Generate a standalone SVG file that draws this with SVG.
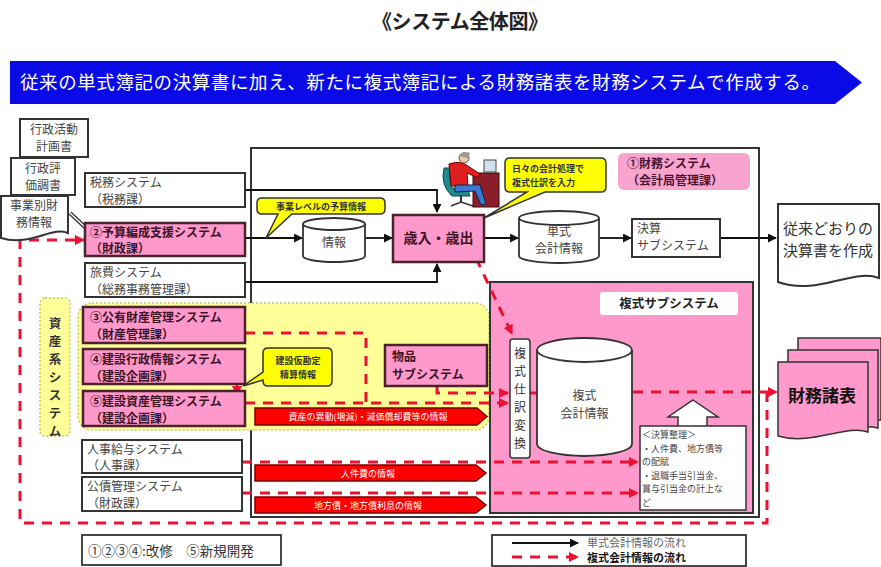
<svg xmlns="http://www.w3.org/2000/svg" width="881" height="567" viewBox="0 0 881 567">
  <defs>
    <marker id="arrBlack" viewBox="0 0 10 10" refX="9" refY="5" markerWidth="9" markerHeight="9" markerUnits="userSpaceOnUse" orient="auto">
      <path d="M0,0 L10,5 L0,10 Z" fill="#111"/>
    </marker>
    <marker id="arrRed" viewBox="0 0 10 10" refX="9" refY="5" markerWidth="10" markerHeight="10" markerUnits="userSpaceOnUse" orient="auto">
      <path d="M0,0 L10,5 L0,10 Z" fill="#ee1030"/>
    </marker>
  </defs>
  <style>
    text { font-family: "Noto Sans CJK JP", "Noto Sans", sans-serif; }
    .box { fill: #ffffff; stroke: #333; stroke-width: 2; }
    .pbox { fill: #ff99cc; stroke: #4a2328; stroke-width: 2.5; }
    .t { font-size: 12px; fill: #444; }
    .tp { font-size: 12px; fill: #3a1426; font-weight: bold; }
    .flow { fill: none; stroke: #111; stroke-width: 1.8; }
    .dash { fill: none; stroke: #ee1030; stroke-width: 3; stroke-dasharray: 10 8; }
    .callout { fill: #ffff00; stroke: #333; stroke-width: 1.5; }
    .ct { font-size: 9px; fill: #333; font-weight: bold; }
    .cyl { fill: #fff; stroke: #333; stroke-width: 1.8; }
    .redarrow { fill: #ff0000; stroke: #7a0000; stroke-width: 1.5; }
    .rt { font-size: 9px; fill: #fff; text-anchor: middle; }
  </style>

  <rect width="881" height="567" fill="#fff"/>

  <!-- heading -->
  <g id="title">
    <text x="460" y="29" font-size="20" font-weight="bold" text-anchor="middle" fill="#222" textLength="176">《システム全体図》</text>
  </g>

  <!-- banner -->
  <g id="banner">
    <path d="M10,61 H835 L862,82.5 L835,104 H10 Z" fill="#0a0ae6"/>
    <text x="20" y="89" font-size="18.5" fill="#fff" textLength="800">従来の単式簿記の決算書に加え、新たに複式簿記による財務諸表を財務システムで作成する。</text>
  </g>

  <!-- finance system frame -->
  <g id="financeFrame">
    <rect x="251" y="148" width="508" height="369" fill="none" stroke="#333" stroke-width="2"/>
  </g>

  <!-- asset systems area -->
  <g id="assetArea">
    <rect x="78" y="303" width="411" height="127" rx="14" fill="#ffff99" stroke="#c8c864" stroke-width="1.5" stroke-dasharray="2 2"/>
  </g>

  <!-- double-entry subsystem area -->
  <g id="doubleSubArea">
    <rect x="490" y="282" width="263" height="231" fill="#ff99cc" stroke="#333" stroke-width="2"/>
    <rect x="600" y="292" width="138" height="23" rx="3" fill="#fff"/>
    <text x="669" y="308" font-size="12.5" font-weight="bold" text-anchor="middle" fill="#222">複式サブシステム</text>
  </g>

  <!-- connectors -->
  <g id="connectors">
    <!-- single-entry flows -->
    <polyline class="flow" points="245,190 437,190 437,212" marker-end="url(#arrBlack)"/>
    <polyline class="flow" points="245,282 437,282 437,264" marker-end="url(#arrBlack)"/>
    <line class="flow" x1="245" y1="238" x2="302" y2="238" marker-end="url(#arrBlack)"/>
    <line class="flow" x1="365" y1="238" x2="392" y2="238" marker-end="url(#arrBlack)"/>
    <line class="flow" x1="485" y1="238" x2="518" y2="238" marker-end="url(#arrBlack)"/>
    <line class="flow" x1="600" y1="238" x2="631" y2="238" marker-end="url(#arrBlack)"/>
    <line class="flow" x1="720" y1="238" x2="776" y2="238" marker-end="url(#arrBlack)"/>
    <!-- project financial info into budget system -->
    <line x1="70" y1="213" x2="86" y2="228" stroke="#333" stroke-width="4"/>
    <line x1="70" y1="213" x2="86" y2="228" stroke="#fff" stroke-width="1.5"/>

    <!-- double-entry flows -->
    <polyline class="dash" points="767,392 767,523 20,523 20,240 84,240" marker-end="url(#arrRed)"/>
    <line class="dash" x1="476" y1="258" x2="512" y2="334" marker-end="url(#arrRed)"/>
    <polyline class="dash" points="245,333 366,333 366,403"/>
    <line class="dash" x1="245" y1="403" x2="508" y2="403" marker-end="url(#arrRed)"/>
    <polyline class="dash" points="437,386 437,393 508,393" marker-end="url(#arrRed)"/>
    <line class="dash" x1="530" y1="393" x2="552" y2="393" marker-end="url(#arrRed)"/>
    <line class="dash" x1="633" y1="392" x2="777" y2="392" marker-end="url(#arrRed)"/>
    <line class="dash" x1="242" y1="462" x2="638" y2="462" marker-end="url(#arrRed)"/>
    <line class="dash" x1="242" y1="493" x2="638" y2="493" marker-end="url(#arrRed)"/>
    <line x1="237" y1="385" x2="237" y2="395" stroke="#ee1030" stroke-width="2" marker-end="url(#arrRed)"/>
  </g>

  <!-- source documents -->
  <g id="docPlan">
    <rect class="box" x="20" y="119" width="68" height="38"/>
    <text class="t" x="54" y="134" text-anchor="middle"><tspan x="54">行政活動</tspan><tspan x="54" dy="17">計画書</tspan></text>
  </g>
  <g id="docEval">
    <rect class="box" x="11" y="158" width="64" height="37"/>
    <text class="t" x="43" y="173" text-anchor="middle"><tspan x="43">行政評</tspan><tspan x="43" dy="17">価調書</tspan></text>
  </g>
  <g id="docProject">
    <path class="box" d="M1,196 H68 V233 C52,226 30,247 1,238 Z"/>
    <text class="t" x="34" y="210" text-anchor="middle"><tspan x="34">事業別財</tspan><tspan x="34" dy="17">務情報</tspan></text>
  </g>

  <!-- feeder systems -->
  <g id="taxSystem">
    <rect class="box" x="85" y="173" width="160" height="34"/>
    <text class="t" x="90" y="187"><tspan x="90">税務システム</tspan><tspan x="90" dy="16.5">（税務課）</tspan></text>
  </g>
  <g id="budgetSystem">
    <rect class="pbox" x="85" y="223" width="160" height="33"/>
    <text class="tp" x="90" y="236.5"><tspan x="90">②予算編成支援システム</tspan><tspan x="90" dy="16.5">（財政課）</tspan></text>
  </g>
  <g id="travelSystem">
    <rect class="box" x="85" y="263" width="160" height="34"/>
    <text class="t" x="90" y="277"><tspan x="90">旅費システム</tspan><tspan x="90" dy="16.5">（総務事務管理課）</tspan></text>
  </g>
  <g id="assetLabel">
    <rect x="40" y="298" width="30" height="138" rx="5" fill="#ffff99" stroke="#c8c864" stroke-width="1.5" stroke-dasharray="2 2"/>
    <text font-size="12.5" font-weight="bold" fill="#333" text-anchor="middle" x="55" y="328"><tspan x="55">資</tspan><tspan x="55" dy="18">産</tspan><tspan x="55" dy="18">系</tspan><tspan x="55" dy="18">シ</tspan><tspan x="55" dy="18">ス</tspan><tspan x="55" dy="18">テ</tspan><tspan x="55" dy="18">ム</tspan></text>
  </g>
  <g id="publicPropertySystem">
    <rect class="pbox" x="83" y="307" width="162" height="36"/>
    <text class="tp" x="90" y="321.5"><tspan x="90">③公有財産管理システム</tspan><tspan x="90" dy="17">（財産管理課）</tspan></text>
  </g>
  <g id="constructionAdminSystem">
    <rect class="pbox" x="83" y="349" width="162" height="35"/>
    <text class="tp" x="90" y="363.5"><tspan x="90">④建設行政情報システム</tspan><tspan x="90" dy="17">（建設企画課）</tspan></text>
  </g>
  <g id="constructionAssetSystem">
    <rect class="pbox" x="83" y="391" width="162" height="35"/>
    <text class="tp" x="90" y="405.5"><tspan x="90">⑤建設資産管理システム</tspan><tspan x="90" dy="17">（建設企画課）</tspan></text>
  </g>
  <g id="payrollSystem">
    <rect class="box" x="82" y="440" width="160" height="33"/>
    <text class="t" x="87" y="453.5"><tspan x="87">人事給与システム</tspan><tspan x="87" dy="16.5">（人事課）</tspan></text>
  </g>
  <g id="bondSystem">
    <rect class="box" x="82" y="477" width="160" height="34"/>
    <text class="t" x="87" y="491"><tspan x="87">公債管理システム</tspan><tspan x="87" dy="16.5">（財政課）</tspan></text>
  </g>

  <!-- callouts -->
  <g id="calloutBudget">
    <path class="callout" d="M262,198 H380 Q385,198 385,203 V209 Q385,214 380,214 H292 L266,238 L278,214 H262 Q257,214 257,209 V203 Q257,198 262,198 Z"/>
    <text class="ct" x="321" y="210" text-anchor="middle">事業レベルの予算情報</text>
  </g>
  <g id="calloutDaily">
    <path class="callout" d="M510,158 H601 Q606,158 606,163 V187 Q606,192 601,192 H545 L484,218 L527,192 H510 Q505,192 505,187 V163 Q505,158 510,158 Z"/>
    <text class="ct" x="512" y="172"><tspan x="512">日々の会計処理で</tspan><tspan x="512" dy="14">複式仕訳を入力</tspan></text>
  </g>
  <g id="calloutConstruction">
    <path class="callout" d="M268,348 H327 Q332,348 332,353 V381 Q332,386 327,386 H268 Q263,386 263,381 V380 L243,386 L263,372 V353 Q263,348 268,348 Z"/>
    <text class="ct" x="298" y="364" text-anchor="middle"><tspan x="298">建設仮勘定</tspan><tspan x="298" dy="14">精算情報</tspan></text>
  </g>

  <!-- finance system contents -->
  <g id="financeSystemLabel">
    <rect x="618" y="153" width="132" height="37" rx="6" fill="#f9a3cf"/>
    <text x="627" y="167.5" font-size="12" font-weight="bold" fill="#4a1430"><tspan x="627">①財務システム</tspan><tspan x="627" dy="17.5">（会計局管理課）</tspan></text>
  </g>
  <g id="budgetInfo">
    <path class="cyl" d="M303,224 A31,6 0 0 1 365,224 V256 A31,6 0 0 1 303,256 Z"/>
    <path class="cyl" d="M303,224 A31,6 0 0 0 365,224" fill="none"/>
    <text class="t" x="334" y="247" text-anchor="middle">情報</text>
  </g>
  <g id="revenueExpense">
    <rect class="pbox" x="393" y="215" width="91" height="47" stroke="#333" stroke-width="1.8"/>
    <text x="438.5" y="243" font-size="14" font-weight="bold" fill="#3a1426" text-anchor="middle">歳入・歳出</text>
  </g>
  <g id="operator">
    <!-- chair -->
    <path d="M444,168 Q440,185 452,196 L470,196 L468,190 L452,188 Q448,178 450,168 Z" fill="#1f8c8c" stroke="#145"/>
    <line x1="461" y1="196" x2="461" y2="203" stroke="#333" stroke-width="2"/>
    <path d="M451,206 L461,202 L473,206" fill="none" stroke="#333" stroke-width="1.5"/>
    <!-- desk and monitor -->
    <rect x="473" y="173" width="26" height="34" fill="#8a1f2a" stroke="#3a0a10"/>
    <rect x="484" y="160" width="12" height="12" fill="#cfe3ee" stroke="#444"/>
    <!-- person -->
    <path d="M449,164 Q460,160 468,166 L480,174 L478,178 L467,173 L468,186 L451,186 Z" fill="#e02020" stroke="#600"/>
    <path d="M455,185 L480,185 L486,204 L481,205 L475,191 L455,192 Z" fill="#3a7ad0" stroke="#124"/>
    <circle cx="464" cy="158" r="5" fill="#f0c8a0" stroke="#555"/>
    <path d="M459,156 Q462,150 470,153 L468,158 Z" fill="#999"/>
  </g>
  <g id="singleEntryInfo">
    <path class="cyl" d="M519,218 A40,7 0 0 1 599,218 V256 A40,7 0 0 1 519,256 Z"/>
    <path class="cyl" d="M519,218 A40,7 0 0 0 599,218" fill="none"/>
    <text class="t" x="559" y="236" text-anchor="middle"><tspan x="559">単式</tspan><tspan x="559" dy="17">会計情報</tspan></text>
  </g>
  <g id="settlementSubsystem">
    <rect class="box" x="632" y="219" width="88" height="38"/>
    <text class="t" x="637" y="233"><tspan x="637">決算</tspan><tspan x="637" dy="17">サブシステム</tspan></text>
  </g>
  <g id="conventionalStatements">
    <path class="box" d="M778,204 H879 V278 C852,268 818,296 778,282 Z"/>
    <text x="783" y="234" font-size="15" fill="#333"><tspan x="783">従来どおりの</tspan><tspan x="783" dy="22">決算書を作成</tspan></text>
  </g>

  <!-- asset subsystem -->
  <g id="goodsSubsystem">
    <rect class="pbox" x="385" y="345" width="102" height="41"/>
    <text class="tp" x="392" y="361"><tspan x="392">物品</tspan><tspan x="392" dy="18">サブシステム</tspan></text>
  </g>

  <!-- red information arrows -->
  <g id="assetChangeInfo">
    <path class="redarrow" d="M255,408 H477 L487,416.5 L477,425 H255 Z"/>
    <text class="rt" x="368" y="420">資産の異動(増減)・減価償却費等の情報</text>
  </g>
  <g id="personnelInfo">
    <path class="redarrow" d="M255,465 H476 L486,473 L476,481 H255 Z"/>
    <text class="rt" x="368" y="477">人件費の情報</text>
  </g>
  <g id="bondInfo">
    <path class="redarrow" d="M255,497 H476 L486,505 L476,513 H255 Z"/>
    <text class="rt" x="368" y="509">地方債・地方債利息の情報</text>
  </g>

  <!-- double-entry subsystem contents -->
  <g id="journalConversion">
    <rect x="510" y="339" width="20" height="119" rx="3" fill="#fff" stroke="#333" stroke-width="1.5"/>
    <text font-size="12" fill="#333" text-anchor="middle" x="520" y="358"><tspan x="520">複</tspan><tspan x="520" dy="18">式</tspan><tspan x="520" dy="18">仕</tspan><tspan x="520" dy="18">訳</tspan><tspan x="520" dy="18">変</tspan><tspan x="520" dy="18">換</tspan></text>
  </g>
  <g id="doubleEntryInfo">
    <path class="cyl" d="M537,350 A47.5,12 0 0 1 632,350 V444 A47.5,12 0 0 1 537,444 Z"/>
    <path class="cyl" d="M537,350 A47.5,12 0 0 0 632,350" fill="none"/>
    <text class="t" x="584.5" y="400" text-anchor="middle"><tspan x="584.5">複式</tspan><tspan x="584.5" dy="18">会計情報</tspan></text>
  </g>
  <g id="closingAdjustment">
    <path d="M693,400 L718,417 H707 V428 H678 V417 H668 Z" fill="#fff" stroke="#333" stroke-width="1.5"/>
    <rect x="640" y="426" width="106" height="84" fill="#fff" stroke="#333" stroke-width="1.5"/>
    <text font-size="9" fill="#444" x="642" y="438"><tspan x="642">＜決算整理＞</tspan><tspan x="642" dy="13.5">・人件費、地方債等</tspan><tspan x="642" dy="13.5">の配賦</tspan><tspan x="642" dy="13.5">・退職手当引当金、</tspan><tspan x="642" dy="13.5">賞与引当金の計上な</tspan><tspan x="642" dy="13.5">ど</tspan></text>
  </g>

  <!-- financial statements stack -->
  <g id="financialStatements">
    <path d="M798,338 H881 V420 H798 Z" fill="#ff99cc" stroke="#333" stroke-width="1.5"/>
    <path d="M788,350 H878 V428 C855,422 820,440 788,430 Z" fill="#ff99cc" stroke="#333" stroke-width="1.5"/>
    <path d="M778,362 H868 V432 C846,424 812,446 778,436 Z" fill="#ff99cc" stroke="#333" stroke-width="1.5"/>
    <text x="822" y="402" font-size="17" font-weight="bold" fill="#111" text-anchor="middle">財務諸表</text>
  </g>

  <!-- legends -->
  <g id="legendDevelopment">
    <rect x="82" y="535" width="199" height="30" fill="#fff" stroke="#333" stroke-width="1.8"/>
    <text x="88" y="556" font-size="13.5" fill="#333">①②③④:改修　⑤新規開発</text>
  </g>
  <g id="legendFlows">
    <rect x="492" y="535" width="254" height="31" fill="#fff" stroke="#333" stroke-width="1.8"/>
    <line class="flow" x1="512" y1="543" x2="578" y2="543" marker-end="url(#arrBlack)"/>
    <line class="dash" x1="512" y1="557" x2="578" y2="557" marker-end="url(#arrRed)"/>
    <text x="587" y="546.5" font-size="11" fill="#666"><tspan x="587">単式会計情報の流れ</tspan><tspan x="587" dy="15" font-weight="bold" fill="#111">複式会計情報の流れ</tspan></text>
  </g>
</svg>
